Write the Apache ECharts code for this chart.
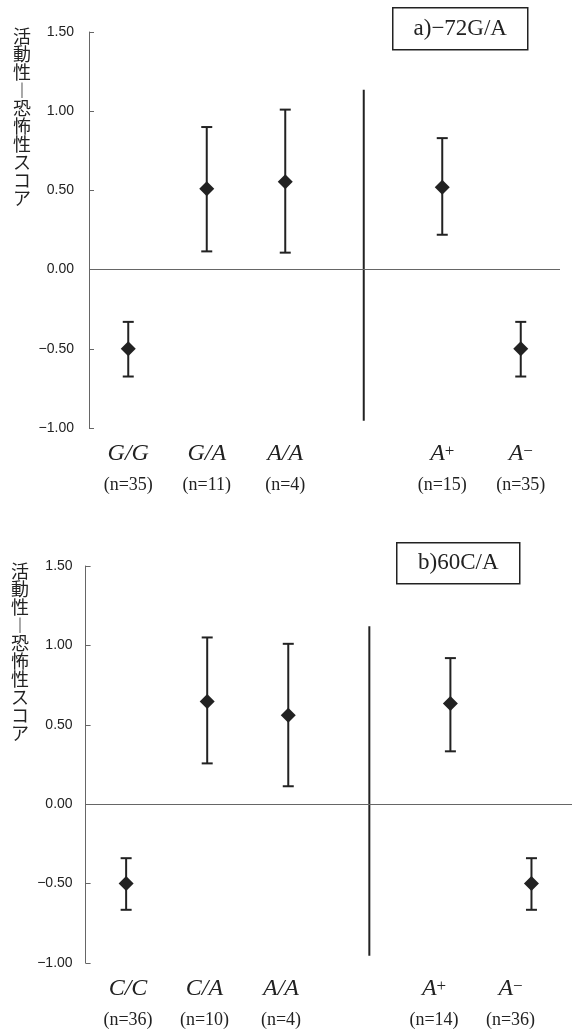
<!DOCTYPE html>
<html>
<head>
<meta charset="utf-8">
<style>html,body{margin:0;padding:0;background:#fff;}#c{width:572px;height:1030px;}</style>
<script src="https://cdn.jsdelivr.net/npm/echarts@6/dist/echarts.min.js"></script>
</head>
<body>
<div id="c"></div>
<script>
// ---- data ----
const yTitle = ['活','動','性','︱','恐','怖','性','ス','コ','ア'];
const yTicks = [-1.0, -0.5, 0.0, 0.5, 1.0, 1.5];

const titleA = 'a)−72G/A';
const catsA = ['G/G', 'G/A', 'A/A', '', 'A+', 'A−'];
const nA = ['(n=35)', '(n=11)', '(n=4)', '', '(n=15)', '(n=35)'];
const meanA = [-0.50, 0.51, 0.555, null, 0.52, -0.50];
const lowA = [-0.675, 0.115, 0.107, null, 0.22, -0.675];
const highA = [-0.33, 0.90, 1.01, null, 0.83, -0.33];
const dividerA = [-0.955, 1.135];

const titleB = 'b)60C/A';
const catsB = ['C/C', 'C/A', 'A/A', '', 'A+', 'A−'];
const nB = ['(n=36)', '(n=10)', '(n=4)', '', '(n=14)', '(n=36)'];
const meanB = [-0.50, 0.647, 0.56, null, 0.634, -0.50];
const lowB = [-0.665, 0.257, 0.113, null, 0.333, -0.665];
const highB = [-0.34, 1.05, 1.01, null, 0.92, -0.34];
const dividerB = [-0.955, 1.12];

// ---- helpers ----
const INK = '#222';
const AXIS = '#666';

function catLabel(cats, ns) {
  return function (v, i) {
    if (!v) return '';
    let g;
    if (v.length === 2 && (v[1] === '+' || v[1] === '−')) {
      g = '{g|' + v[0] + '}{s|' + v[1] + '}';
    } else {
      g = '{g|' + v + '}';
    }
    return g + '\n{n|' + ns[i] + '}';
  };
}
const richX = {
  g: {fontFamily: 'Liberation Serif', fontStyle: 'italic', fontSize: 24, lineHeight: 30, color: INK},
  s: {fontFamily: 'Liberation Serif', fontSize: 17, lineHeight: 30, color: INK, padding: [0, 0, 5, 0]},
  n: {fontFamily: 'Liberation Serif', fontSize: 18, lineHeight: 32, color: INK}
};

function yAxisDef(gridIndex, margin, show) {
  return {
    type: 'value', gridIndex: gridIndex, min: yTicks[0], max: yTicks[yTicks.length - 1], interval: 0.5,
    show: show,
    axisLine: {show: true, lineStyle: {color: AXIS, width: 1}},
    axisTick: {show: true, inside: true, length: 5, lineStyle: {color: AXIS}},
    splitLine: {show: false},
    axisLabel: {
      margin: margin, fontFamily: 'Liberation Sans', fontSize: 14, color: INK,
      formatter: v => v.toFixed(2).replace('-', '−')
    }
  };
}

function errRender(params, api) {
  const i = api.value(0);
  const lo = api.coord([i, api.value(1)]);
  const hi = api.coord([i, api.value(2)]);
  const w = 5.5;
  const st = {stroke: INK, lineWidth: 2};
  return {
    type: 'group',
    children: [
      {type: 'line', shape: {x1: lo[0], y1: lo[1], x2: hi[0], y2: hi[1]}, style: st},
      {type: 'line', shape: {x1: lo[0] - w, y1: lo[1], x2: lo[0] + w, y2: lo[1]}, style: st},
      {type: 'line', shape: {x1: hi[0] - w, y1: hi[1], x2: hi[0] + w, y2: hi[1]}, style: st}
    ]
  };
}
function divRender(params, api) {
  const a = api.coord([api.value(0), api.value(1)]);
  const b = api.coord([api.value(0), api.value(2)]);
  return {type: 'line', shape: {x1: a[0], y1: a[1], x2: b[0], y2: b[1]}, style: {stroke: INK, lineWidth: 2}};
}

function seriesFor(idx, mean, low, high, divider, cats) {
  const err = [], pts = [];
  mean.forEach((m, i) => {
    if (m !== null) { err.push([i, low[i], high[i]]); pts.push([i, m]); }
  });
  const divIdx = cats.indexOf('');
  return [
    {
      type: 'line', xAxisIndex: idx, yAxisIndex: idx, data: [], silent: true,
      markLine: {silent: true, symbol: 'none', label: {show: false},
        lineStyle: {color: AXIS, width: 1, type: 'solid'}, data: [{yAxis: 0}]}
    },
    {type: 'custom', xAxisIndex: idx, yAxisIndex: idx, renderItem: divRender, data: [[divIdx, divider[0], divider[1]]], z: 3},
    {type: 'custom', xAxisIndex: idx, yAxisIndex: idx, renderItem: errRender, data: err, z: 4},
    {type: 'scatter', xAxisIndex: idx, yAxisIndex: idx, symbol: 'diamond', symbolSize: 15,
      itemStyle: {color: INK, opacity: 1}, data: pts, z: 5}
  ];
}

function titleBox(cx, cy, w, h, txt) {
  return {
    type: 'group', left: cx - w / 2, top: cy - h / 2,
    children: [
      {type: 'rect', shape: {x: 0, y: 0, width: w, height: h}, style: {fill: '#fff', stroke: INK, lineWidth: 1.5}},
      {type: 'text', x: w / 2, y: h / 2, style: {text: txt, fontFamily: 'Liberation Serif', fontSize: 23, fill: INK, align: 'center', verticalAlign: 'middle'}}
    ]
  };
}
function yTitleText(cx, top) {
  return {
    type: 'text', left: cx - 9, top: top,
    style: {text: yTitle.join('\n'), fontFamily: 'Noto Sans CJK JP', fontSize: 18, lineHeight: 18, fill: INK, align: 'center'}
  };
}

const chart = echarts.init(document.getElementById('c'), null, {renderer: 'canvas'});
chart.setOption({
  animation: false,
  backgroundColor: '#fff',
  grid: [
    {left: 89, top: 32, width: 471, height: 396},
    {left: 85.6, top: 566, width: 488, height: 397},
    {left: 89.75, top: 566, width: 459, height: 397}
  ],
  xAxis: [
    {type: 'category', gridIndex: 0, data: catsA, axisLine: {show: false}, axisTick: {show: false},
      axisLabel: {margin: 11, interval: 0, formatter: catLabel(catsA, nA), rich: richX}},
    {type: 'category', gridIndex: 1, data: catsB, axisLine: {show: false}, axisTick: {show: false},
      axisLabel: {show: false}},
    {type: 'category', gridIndex: 2, data: catsB, axisLine: {show: false}, axisTick: {show: false},
      axisLabel: {margin: 11, interval: 0, formatter: catLabel(catsB, nB), rich: richX}}
  ],
  yAxis: [yAxisDef(0, 15, true), yAxisDef(1, 13, true), yAxisDef(2, 13, false)],
  series: [].concat(
    seriesFor(0, meanA, lowA, highA, dividerA, catsA),
    seriesFor(1, meanB, lowB, highB, dividerB, catsB)
  ),
  graphic: [
    titleBox(459.5, 28, 135, 42, titleA),
    titleBox(457.5, 562.5, 123, 41, titleB),
    yTitleText(22, 27),
    yTitleText(20, 562)
  ]
});
</script>
</body>
</html>
